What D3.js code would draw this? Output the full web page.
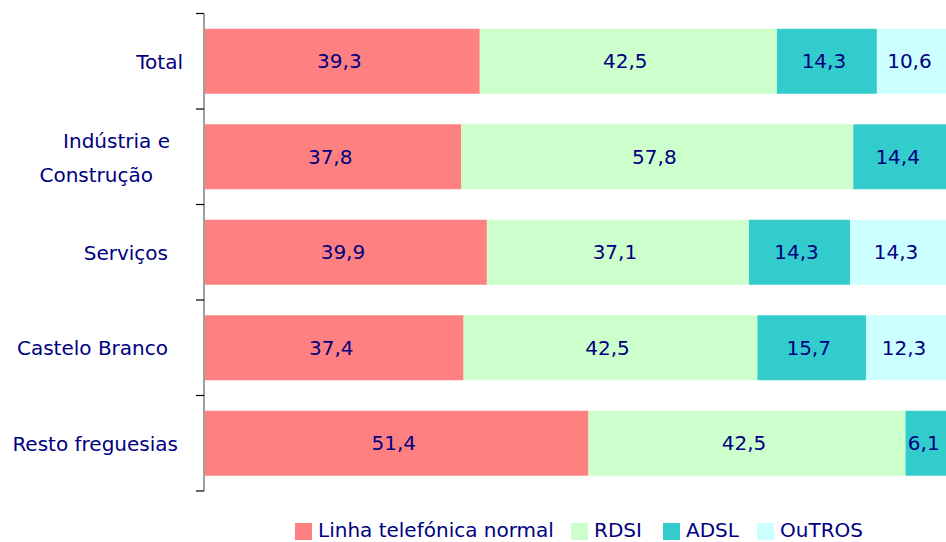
<!DOCTYPE html>
<html>
<head>
<meta charset="utf-8">
<script src="https://cdn.jsdelivr.net/npm/d3@7"></script>
<style>
  body { margin: 0; background: #fff; }
  svg text { font-family: "Comic Sans MS", "DejaVu Sans", sans-serif; fill: #000080; font-size: 20px; }
</style>
</head>
<body>
<div class="graph"></div>
<script>
// data
const categories = ["Total", "Indústria e\nConstrução", "Serviços", "Castelo Branco", "Resto freguesias"];
const seriesNames = ["Linha telefónica normal", "RDSI", "ADSL", "OuTROS"];
const linha = [39.3, 37.8, 39.9, 37.4, 51.4];
const rdsi = [42.5, 57.8, 37.1, 42.5, 42.5];
const adsl = [14.3, 14.4, 14.3, 15.7, 6.1];
const outros = [10.6, 0, 14.3, 12.3, 0];
const colors = ["#FF8080", "#CCFFCC", "#33CCCC", "#CCFFFF"];

const w = 946;
const h = 542;
const padLeft = 204;
const plotRight = 951;   // plot area runs a little past the picture edge
const padTop = 13.5;
const padBottom = 491;

// label right edges (the original labels are not all flush)
const labelRight = [[183], [170, 153], [168], [168], [178]];
const legendX = [295, 571, 663, 757];

const rows = categories.map((c, i) => ({
  cat: c, vals: [linha[i], rdsi[i], adsl[i], outros[i]]
}));

const svg = d3.select(".graph").append("svg")
  .attr("width", w).attr("height", h);

const yScale = d3.scaleBand()
  .domain(categories)
  .range([padTop, padBottom])
  .paddingInner(0.32)
  .paddingOuter(0.16);

const xScale = d3.scaleLinear().domain([0, 1]).range([padLeft + 1, plotRight]);

// 100% stacked segments
rows.forEach(r => {
  const total = d3.sum(r.vals);
  let acc = 0;
  const segs = r.vals.map((v, k) => {
    const s = { k: k, v: v, x0: acc / total, x1: (acc + v) / total };
    acc += v;
    return s;
  }).filter(s => s.v > 0);

  const g = svg.append("g");
  g.selectAll("rect")
    .data(segs)
    .enter()
    .append("rect")
    .attr("x", d => xScale(d.x0))
    .attr("width", d => xScale(d.x1) - xScale(d.x0))
    .attr("y", yScale(r.cat))
    .attr("height", yScale.bandwidth())
    .attr("fill", d => colors[d.k]);

  g.selectAll("text")
    .data(segs)
    .enter()
    .append("text")
    .attr("x", d => (xScale(d.x0) + Math.min(xScale(d.x1), w + 2)) / 2 - 3)
    .attr("y", yScale(r.cat) + yScale.bandwidth() / 2 + 7)
    .attr("text-anchor", "middle")
    .text(d => d.v.toFixed(1).replace(".", ","));
});

// left axis: gray line, black ticks at band boundaries
svg.append("line")
  .attr("x1", padLeft).attr("x2", padLeft)
  .attr("y1", padTop).attr("y2", padBottom)
  .attr("stroke", "#808080").attr("stroke-width", 1.5);

const bounds = d3.range(categories.length + 1).map(i => padTop + i * (padBottom - padTop) / categories.length);
svg.selectAll(".tick")
  .data(bounds)
  .enter()
  .append("line")
  .attr("x1", padLeft - 8).attr("x2", padLeft)
  .attr("y1", d => d).attr("y2", d => d)
  .attr("stroke", "#000").attr("stroke-width", 1.2);

// category labels
categories.forEach((c, i) => {
  const lines = c.split("\n");
  const cy = yScale(c) + yScale.bandwidth() / 2;
  const t = svg.append("text").attr("text-anchor", "end");
  if (lines.length === 1) {
    t.attr("x", labelRight[i][0]).attr("y", cy + 7.5).text(c);
  } else {
    t.append("tspan").attr("x", labelRight[i][0]).attr("y", cy - 9).text(lines[0]);
    t.append("tspan").attr("x", labelRight[i][1]).attr("y", cy + 25).text(lines[1]);
  }
});

// legend
const lg = svg.append("g");
seriesNames.forEach((s, k) => {
  lg.append("rect")
    .attr("x", legendX[k]).attr("y", 523)
    .attr("width", 17).attr("height", 17)
    .attr("fill", colors[k]);
  lg.append("text")
    .attr("x", legendX[k] + 23).attr("y", 537)
    .text(s);
});
</script>
</body>
</html>
